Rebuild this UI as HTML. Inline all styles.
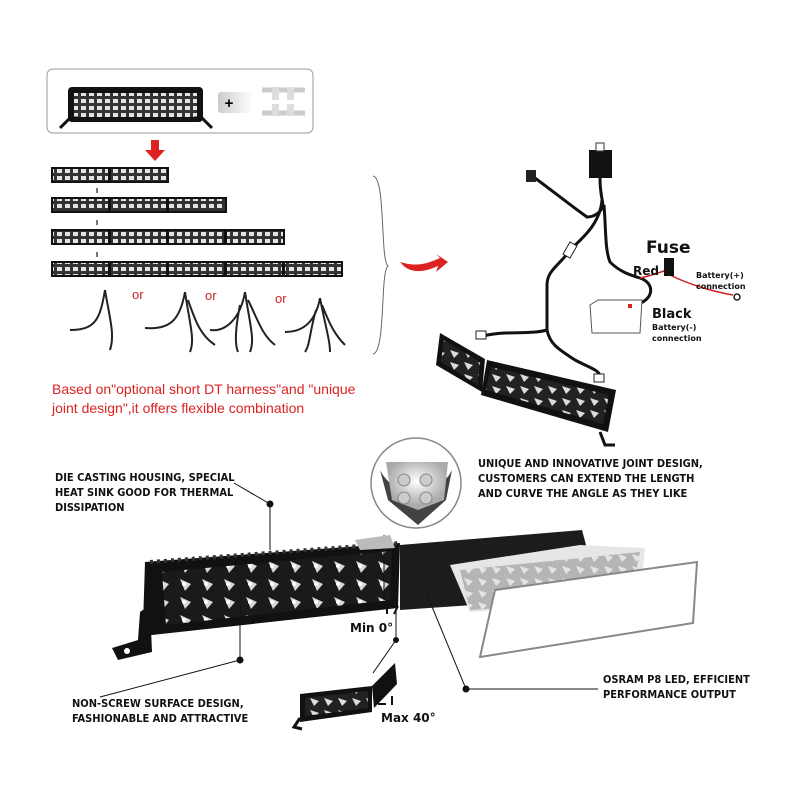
<!DOCTYPE html>
<html><head><meta charset="utf-8"><style>
body{margin:0;background:#fff;}
svg{display:block}
.m{font-family:"DejaVu Sans Condensed","DejaVu Sans","Liberation Sans",sans-serif;font-size:11px;fill:#111;font-weight:bold}
.s{font-family:"Liberation Sans",sans-serif}
.d{font-family:"DejaVu Sans","Liberation Sans",sans-serif;font-weight:bold;fill:#111}
</style></head><body>
<svg width="800" height="800" viewBox="0 0 800 800" xmlns="http://www.w3.org/2000/svg">
<defs>
<pattern id="led" width="8" height="7" patternUnits="userSpaceOnUse">
<rect width="8" height="7" fill="#333"/><rect x="1" y="1" width="5" height="4" fill="#e4e4e4"/></pattern>
<pattern id="ledb" width="22" height="18" patternUnits="userSpaceOnUse">
<rect width="22" height="18" fill="#1a1a1a"/><path d="M4 3 L15 8 L9 15 Z" fill="#d8d8d8"/><circle cx="8" cy="8" r="2" fill="#fff"/></pattern>
<pattern id="ledc" width="14" height="12" patternUnits="userSpaceOnUse">
<rect width="14" height="12" fill="#222"/><path d="M2 2 L11 5 L6 10 Z" fill="#ddd"/></pattern>
<linearGradient id="pg" x1="0" x2="1"><stop offset="0" stop-color="#ccc"/><stop offset="1" stop-color="#fff"/></linearGradient>
<radialGradient id="cg" cx=".5" cy=".4"><stop offset="0" stop-color="#fff"/><stop offset="1" stop-color="#aaa"/></radialGradient>
</defs>
<rect x="47" y="69" width="266" height="64" rx="6" fill="#fff" stroke="#999"/>
<rect x="68" y="87" width="135" height="35" rx="4" fill="#111"/>
<rect x="74" y="93" width="123" height="24" fill="url(#led)"/>
<path d="M60 128 L70 118 L78 118 M212 128 L202 118 L194 118" stroke="#111" stroke-width="3" fill="none"/>
<rect x="218" y="92" width="35" height="21" rx="3" fill="url(#pg)"/>
<text x="229" y="108" text-anchor="middle" class="s" font-size="15" font-weight="bold">+</text>
<path d="M262 90h43M262 113h43" stroke="#ccc" stroke-width="5"/>
<rect x="272" y="87" width="7" height="13" fill="#ddd"/><rect x="287" y="87" width="7" height="13" fill="#ddd"/>
<rect x="272" y="104" width="7" height="12" fill="#ddd"/><rect x="287" y="104" width="7" height="12" fill="#ddd"/>
<path d="M151 140h8v10h6l-10 11-10-11h6z" fill="#d22"/>
<g stroke="#111" stroke-width="2">
<rect x="52" y="168" width="57" height="14" fill="url(#led)"/><rect x="110" y="168" width="58" height="14" fill="url(#led)"/>
<rect x="52" y="198" width="57" height="14" fill="url(#led)"/><rect x="110" y="198" width="57" height="14" fill="url(#led)"/><rect x="168" y="198" width="58" height="14" fill="url(#led)"/>
<rect x="52" y="230" width="57" height="14" fill="url(#led)"/><rect x="110" y="230" width="57" height="14" fill="url(#led)"/><rect x="168" y="230" width="57" height="14" fill="url(#led)"/><rect x="226" y="230" width="58" height="14" fill="url(#led)"/>
<rect x="52" y="262" width="57" height="14" fill="url(#led)"/><rect x="110" y="262" width="57" height="14" fill="url(#led)"/><rect x="168" y="262" width="57" height="14" fill="url(#led)"/><rect x="226" y="262" width="57" height="14" fill="url(#led)"/><rect x="284" y="262" width="58" height="14" fill="url(#led)"/>
</g>
<path d="M97 188v5M97 220v5M97 252v5" stroke="#777" stroke-width="2"/>
<g stroke="#222" stroke-width="2" fill="none">
<path d="M105 290 C100 320 95 330 70 330 M105 290 C110 320 115 335 110 350"/>
<path d="M185 292 C180 320 170 330 145 328 M185 292 C190 325 195 340 190 352 M188 300 C195 320 200 335 215 345"/>
<path d="M245 292 C240 320 225 332 210 330 M245 292 C250 325 255 340 250 352 M248 300 C258 320 262 335 275 345 M240 305 C235 330 235 345 238 352"/>
<path d="M320 298 C315 325 300 332 285 332 M320 298 C325 325 330 340 330 352 M322 305 C330 325 335 335 345 345 M316 310 C310 330 310 345 305 352"/>
</g>
<text x="132" y="299" class="s" font-size="13" fill="#c22">or</text>
<text x="205" y="300" class="s" font-size="13" fill="#c22">or</text>
<text x="275" y="303" class="s" font-size="13" fill="#c22">or</text>
<path d="M373 176 C386 178 380 260 388 266 C380 272 386 352 373 354" stroke="#666" fill="none"/>
<path d="M400 262 C420 268 430 262 440 258 L436 254 L448 262 L436 272 L438 266 C425 272 410 275 400 262z" fill="#d22"/>
<text x="52" y="394" class="s" font-size="14" fill="#d22">Based on"optional short DT harness"and "unique</text>
<text x="52" y="413" class="s" font-size="14" fill="#d22">joint design",it offers flexible combination</text>
<g stroke="#111" stroke-width="3" fill="none">
<path d="M600 178 C600 195 603 200 603 207 C600 212 595 217 587 217 C570 205 545 185 532 176"/>
<path d="M602 200 C600 225 580 240 570 250 C560 265 547 270 547 285 L547 330 C530 335 500 330 480 337"/>
<path d="M547 330 C550 345 560 350 575 360 C590 368 600 370 600 377"/>
<path d="M604 205 C606 230 605 250 610 262 C620 272 630 275 640 278 C655 283 655 300 635 305"/>
</g>
<path d="M640 278 C650 276 658 273 667 270 M670 275 C690 285 715 292 733 295" stroke="#c22" stroke-width="1.5" fill="none"/>
<rect x="589" y="150" width="23" height="28" fill="#111"/>
<rect x="596" y="143" width="8" height="8" fill="#fff" stroke="#333"/>
<rect x="526" y="170" width="10" height="12" fill="#222"/>
<rect x="566" y="243" width="8" height="14" fill="#fff" stroke="#222" transform="rotate(30 570 250)"/>
<rect x="476" y="331" width="10" height="8" fill="#fff" stroke="#222"/>
<rect x="594" y="374" width="10" height="8" fill="#fff" stroke="#222"/>
<rect x="664" y="258" width="10" height="18" fill="#111"/>
<circle cx="737" cy="297" r="3" fill="none" stroke="#222" stroke-width="1.5"/>
<path d="M590 305 L598 300 L642 300 L640 333 L592 333 Z" fill="#fff" stroke="#555"/>
<rect x="628" y="304" width="4" height="4" fill="#d22"/>
<text x="646" y="253" class="d" font-size="17">Fuse</text>
<text x="633" y="275" class="d" font-size="12">Red</text>
<text x="696" y="278" class="d" font-size="8">Battery(+)</text>
<text x="696" y="289" class="d" font-size="8">connection</text>
<text x="652" y="318" class="d" font-size="13">Black</text>
<text x="652" y="330" class="d" font-size="8">Battery(-)</text>
<text x="652" y="341" class="d" font-size="8">connection</text>
<path d="M487 360 L616 390 L608 432 L481 395 Z" fill="#111"/>
<path d="M491 367 L609 395 L603 424 L486 390 Z" fill="url(#ledc)"/>
<path d="M440 333 L485 359 L482 392 L436 365 Z" fill="#111"/>
<path d="M444 340 L480 362 L478 385 L441 362 Z" fill="url(#ledc)"/>
<path d="M600 432 L605 445 L615 445" stroke="#111" stroke-width="3" fill="none"/>
<text x="55" y="481" class="m">DIE CASTING HOUSING, SPECIAL</text>
<text x="55" y="496" class="m">HEAT SINK GOOD FOR THERMAL</text>
<text x="55" y="511" class="m">DISSIPATION</text>
<text x="478" y="467" class="m">UNIQUE AND INNOVATIVE JOINT DESIGN,</text>
<text x="478" y="482" class="m">CUSTOMERS CAN EXTEND THE LENGTH</text>
<text x="478" y="497" class="m">AND CURVE THE ANGLE AS THEY LIKE</text>
<text x="72" y="707" class="m">NON-SCREW SURFACE DESIGN,</text>
<text x="72" y="722" class="m">FASHIONABLE AND ATTRACTIVE</text>
<text x="603" y="683" class="m">OSRAM P8 LED, EFFICIENT</text>
<text x="603" y="698" class="m">PERFORMANCE OUTPUT</text>
<path d="M400 545 L582 530 L586 545 L588 597 L400 610 Z" fill="#1c1c1c"/>
<path d="M145 562 L400 543 L398 608 L152 635 Q143 634 143 625 Z" fill="#111"/>
<path d="M162 572 L392 551 L390 600 L166 625 Z" fill="url(#ledb)"/>
<path d="M150 562 L400 543" stroke="#333" stroke-width="4" stroke-dasharray="3 4"/>
<path d="M450 565 L580 545 L645 548 L640 600 L470 612 Z" fill="#e6e6e6"/>
<path d="M460 570 L640 552 L630 600 L470 610 Z" fill="url(#ledc)" opacity=".25"/>
<path d="M495 590 L697 562 L693 623 L480 657 Z" fill="#fff" stroke="#888" stroke-width="2"/>
<path d="M140 612 L150 605 L152 652 L118 660 L112 648 L138 640 Z" fill="#111"/>
<circle cx="127" cy="651" r="3" fill="#fff"/>
<g stroke="#111" stroke-width="1" fill="none">
<path d="M234 483 L270 504 L270 550"/>
<path d="M240 590 L240 660 L100 697"/>
<path d="M428 597 L466 689 L598 689"/>
<path d="M396 600 L396 640 L373 673"/>
<path d="M384 535 L384 600"/>
</g>
<circle cx="270" cy="504" r="3.5" fill="#111"/><circle cx="240" cy="660" r="3.5" fill="#111"/><circle cx="466" cy="689" r="3.5" fill="#111"/><circle cx="396" cy="640" r="3" fill="#111"/>
<circle cx="416" cy="483" r="45" fill="#fff" stroke="#888" stroke-width="1.5"/>
<path d="M380 470 A40 40 0 0 0 452 470 L446 500 L418 525 L388 500 Z" fill="#222" opacity=".85"/>
<path d="M386 462 L448 462 L444 500 L418 510 L392 500 Z" fill="url(#cg)"/>
<circle cx="404" cy="480" r="6" fill="#ccc" stroke="#888"/><circle cx="426" cy="480" r="6" fill="#ccc" stroke="#888"/>
<circle cx="404" cy="498" r="6" fill="#ccc" stroke="#888"/><circle cx="426" cy="498" r="6" fill="#ccc" stroke="#888"/>
<path d="M355 540 L390 535 L395 548 L360 550 Z" fill="#bbb"/>
<path d="M300 694 L372 686 L372 712 L300 722 Z" fill="#111"/>
<path d="M305 698 L368 691 L368 708 L305 716 Z" fill="url(#ledc)"/>
<path d="M372 686 L395 663 L397 684 L374 708 Z" fill="#111"/>
<path d="M300 718 L294 727 L302 729" stroke="#111" stroke-width="3" fill="none"/>
<text x="350" y="632" class="d" font-size="12">Min 0°</text>
<text x="381" y="722" class="d" font-size="12">Max 40°</text>
<path d="M387 606 v8 M398 606 l-4 8" stroke="#111" stroke-width="2" fill="none"/>
<path d="M378 704 h8 M392 696 v9" stroke="#111" stroke-width="2" fill="none"/>
</svg>
</body></html>
